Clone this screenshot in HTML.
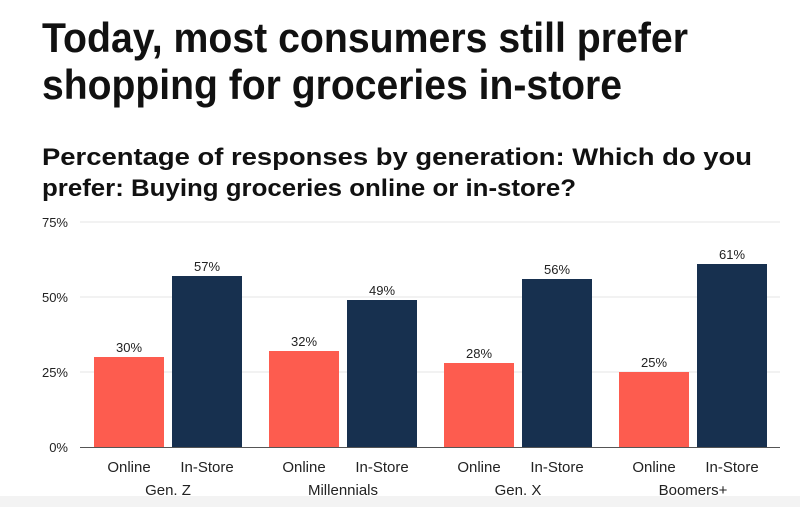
<!DOCTYPE html>
<html><head><meta charset="utf-8"><style>
html,body{margin:0;padding:0;background:#fff;}
svg{display:block;font-family:"Liberation Sans",sans-serif;}
</style></head><body>
<svg width="800" height="507" viewBox="0 0 800 507">
<rect x="0" y="0" width="800" height="507" fill="#fff"/>
<rect x="0" y="496" width="800" height="11" fill="#f3f3f3"/>
<text x="42" y="52" font-size="42" font-weight="bold" fill="#111" textLength="646" lengthAdjust="spacingAndGlyphs">Today, most consumers still prefer</text>
<text x="42" y="99" font-size="42" font-weight="bold" fill="#111" textLength="580" lengthAdjust="spacingAndGlyphs">shopping for groceries in-store</text>
<text x="42" y="165" font-size="24" font-weight="bold" fill="#111" textLength="710" lengthAdjust="spacingAndGlyphs">Percentage of responses by generation: Which do you</text>
<text x="42" y="196" font-size="24" font-weight="bold" fill="#111" textLength="534" lengthAdjust="spacingAndGlyphs">prefer: Buying groceries online or in-store?</text>
<g id="plot"></g>
</svg>
<script>
const groups = ["Gen. Z","Millennials","Gen. X","Boomers+"];
const seriesNames = ["Online","In-Store"];
const onlineValues = [30,32,28,25];
const inStoreValues = [57,49,56,61];
const yTicks = [0,25,50,75];
const yTickLabels = ["0%","25%","50%","75%"];

const NS="http://www.w3.org/2000/svg";
const plot=document.getElementById('plot');
const x0=80,x1=780,yBase=447,yTop=222,yMax=75;
const y=v=>yBase-(v/yMax)*(yBase-yTop);
const groupW=(x1-x0)/groups.length;
const barW=70, gap=8, padL=14;
function mk(tag,attrs){const e=document.createElementNS(NS,tag);for(const k in attrs)e.setAttribute(k,attrs[k]);plot.appendChild(e);return e;}
yTicks.forEach((t,i)=>{
  if(t>0){const g=mk('line',{x1:x0,x2:x1,y1:y(t),y2:y(t),stroke:'#e6e6e6','stroke-width':1});
  
  }
  const l=mk('text',{x:68,y:y(t)+5,'font-size':13,'text-anchor':'end',fill:'#222'});
  l.textContent=yTickLabels[i];
  
  
});
const colors=["#fd5c4f","#17304f"];
groups.forEach((gname,gi)=>{
  const gx=x0+gi*groupW+padL;
  [onlineValues[gi],inStoreValues[gi]].forEach((v,si)=>{
    const bx=gx+si*(barW+gap);
    const r=mk('rect',{x:bx,y:y(v),width:barW,height:yBase-y(v),fill:colors[si]});
    
    
    const vl=mk('text',{x:bx+barW/2,y:y(v)-5,'font-size':13,'text-anchor':'middle',fill:'#222'});
    vl.textContent=v+'%';
    
    
    const sl=mk('text',{x:bx+barW/2,y:472,'font-size':15,'text-anchor':'middle',fill:'#222'});
    sl.textContent=seriesNames[si];
    
    
  });
  const gl=mk('text',{x:gx+barW+gap/2,y:495,'font-size':15,'text-anchor':'middle',fill:'#222'});
  gl.textContent=gname;
  
  
});
const ax=mk('line',{x1:x0,x2:x1,y1:yBase+0.5,y2:yBase+0.5,stroke:'#555','stroke-width':1});


</script>
</body></html>
